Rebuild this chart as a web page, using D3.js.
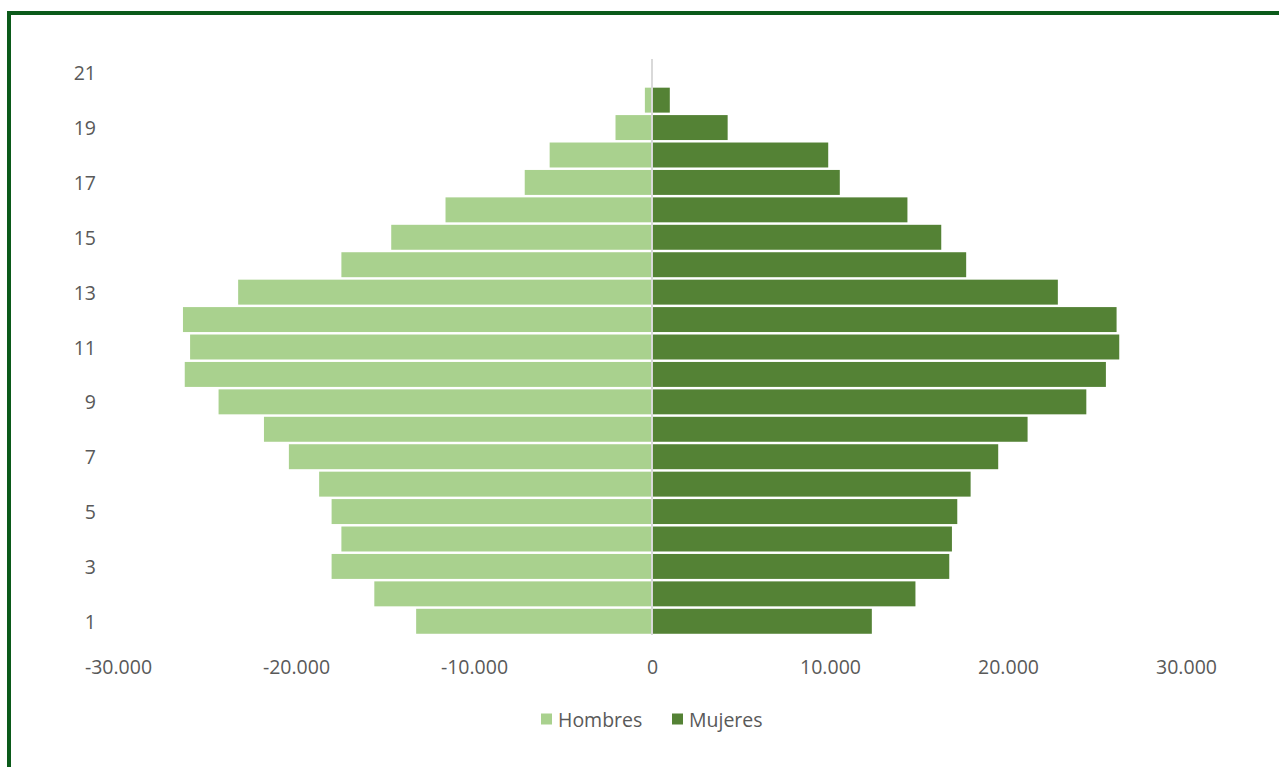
<!DOCTYPE html>
<html>
<head>
<meta charset="utf-8">
<script src="https://cdn.jsdelivr.net/npm/d3@7"></script>
<style>
  html, body { margin: 0; padding: 0; background: #fff; overflow: hidden; }
  svg { display: block; font-family: "Open Sans", sans-serif; }
</style>
</head>
<body>
<svg id="chart"></svg>
<script>
const groups = d3.range(1, 22);
const hombres = [13250, 15600, 18000, 17450, 18000, 18700, 20400, 21800, 24350, 26250,
    25950, 26350, 23250, 17450, 14650, 11600, 7150, 5750, 2050, 400, 40];
const mujeres = [12350, 14800, 16700, 16850, 17150, 17900, 19450, 21100, 24400, 25500,
    26250, 26100, 22800, 17650, 16250, 14350, 10550, 9900, 4250, 1000, 0];
const xTicks = [-30000, -20000, -10000, 0, 10000, 20000, 30000];
const seriesNames = ['Hombres', 'Mujeres'];
const seriesColors = ['#a9d18e', '#548235'];

const width = 1279;
const height = 767;
const textColor = '#595959';
const fontSize = 19.5;

const svg = d3.select('#chart')
    .attr('width', width)
    .attr('height', height);

// outer frame, only top and left edges fall inside the picture
svg.append('rect')
    .attr('x', 9)
    .attr('y', 13)
    .attr('width', width + 20)
    .attr('height', height + 20)
    .attr('fill', 'none')
    .attr('stroke', '#0b5a1a')
    .attr('stroke-width', 4);

const x = d3.scaleLinear()
    .domain([-30000, 30000])
    .range([118, 1186]);

const y = d3.scaleBand()
    .domain(groups)
    .range([635, 59])
    .paddingInner(0.09)
    .paddingOuter(0.045);

const locale = d3.formatLocale({ decimal: ',', thousands: '.', grouping: [3], currency: ['', '€'], minus: '-' });
const fmt = locale.format(',');

const rows = groups.map((g, i) => ({ g, h: hombres[i], m: mujeres[i] }));

svg.append('g')
    .selectAll('rect')
    .data(rows)
    .join('rect')
    .attr('x', (d) => x(-d.h))
    .attr('y', (d) => y(d.g))
    .attr('width', (d) => x(0) - x(-d.h))
    .attr('height', y.bandwidth())
    .attr('fill', seriesColors[0]);

svg.append('g')
    .selectAll('rect')
    .data(rows)
    .join('rect')
    .attr('x', x(0))
    .attr('y', (d) => y(d.g))
    .attr('width', (d) => x(d.m) - x(0))
    .attr('height', y.bandwidth())
    .attr('fill', seriesColors[1]);

// vertical axis line at zero
svg.append('line')
    .attr('x1', x(0))
    .attr('x2', x(0))
    .attr('y1', 59)
    .attr('y2', 635)
    .attr('stroke', '#d9d9d9')
    .attr('stroke-width', 2);

// category labels, every other one
svg.append('g')
    .selectAll('text')
    .data(groups.filter((g) => g % 2 === 1))
    .join('text')
    .attr('x', 96)
    .attr('y', (d) => y(d) + y.bandwidth() / 2)
    .attr('text-anchor', 'end')
    .attr('dominant-baseline', 'central')
    .attr('fill', textColor)
    .attr('font-size', fontSize)
    .text((d) => d);

const xAxis = d3.axisBottom(x)
    .tickValues(xTicks)
    .tickFormat(fmt)
    .tickSize(0)
    .tickPadding(0);

const xg = svg.append('g')
    .attr('transform', 'translate(0,666)')
    .call(xAxis);
xg.select('.domain').remove();
xg.selectAll('text')
    .attr('dy', null)
    .attr('y', 0)
    .attr('dominant-baseline', 'central')
    .attr('fill', textColor)
    .attr('font-size', fontSize)
    .attr('font-family', '"Open Sans", sans-serif');

// legend
const legend = svg.append('g').attr('transform', 'translate(0,719)');
const legendX = [541, 672];
seriesNames.forEach((name, i) => {
    legend.append('rect')
        .attr('x', legendX[i])
        .attr('y', -5.5)
        .attr('width', 11)
        .attr('height', 11)
        .attr('fill', seriesColors[i]);
    legend.append('text')
        .attr('x', legendX[i] + 17)
        .attr('y', 0)
        .attr('dominant-baseline', 'central')
        .attr('fill', textColor)
        .attr('font-size', fontSize)
        .text(name);
});
</script>
</body>
</html>
